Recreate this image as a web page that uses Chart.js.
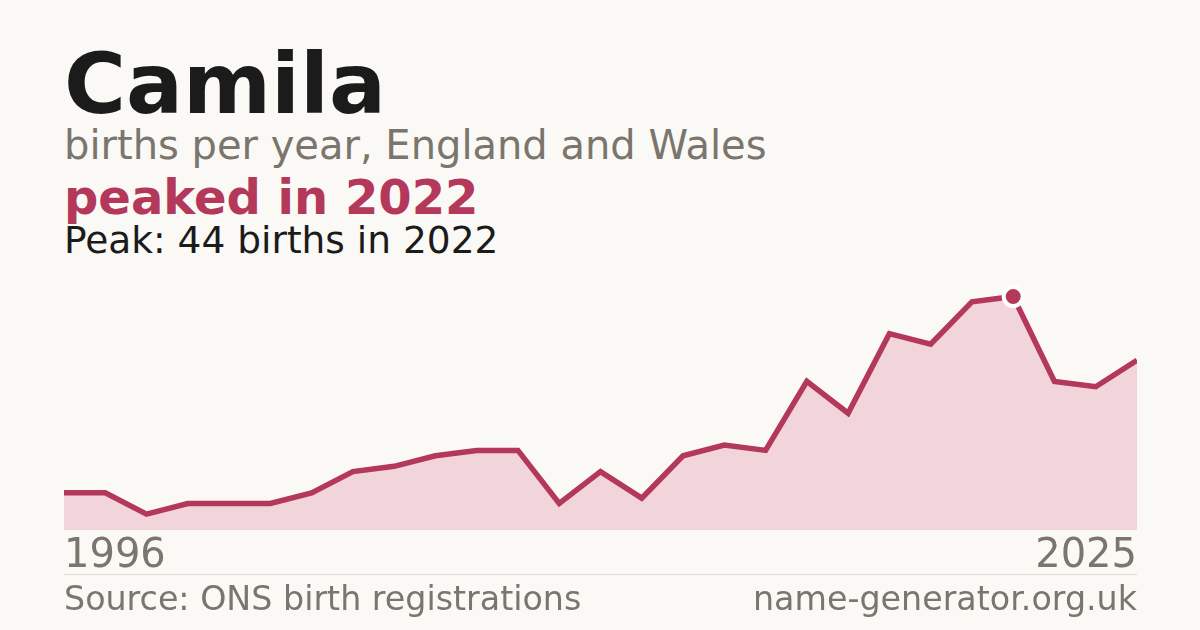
<!DOCTYPE html>
<html>
<head>
<meta charset="utf-8">
<script src="https://cdn.jsdelivr.net/npm/chart.js@4/dist/chart.umd.min.js"></script>
<style>
  html, body {
    margin: 0;
    padding: 0;
    width: 1200px;
    height: 630px;
    background: #faf9f5;
    overflow: hidden;
    font-family: "DejaVu Sans", sans-serif;
  }
  .txt {
    position: absolute;
    left: 64px;
    line-height: 1;
    white-space: nowrap;
  }
  #title { top: 42px; font-size: 84.5px; font-weight: bold; color: #1b1b1b; }
  #subtitle { top: 125px; font-size: 40px; color: #7a756d; }
  #headline { top: 173px; font-size: 48px; font-weight: bold; color: #b3385a; }
  #peakline { top: 222px; font-size: 37.5px; color: #1b1b1b; }
  #rule {
    position: absolute;
    left: 64px;
    top: 574px;
    width: 1073px;
    height: 1px;
    background: #dedbd3;
  }
  #source { top: 582px; font-size: 33.3px; color: #7a756d; }
  #site { top: 582px; left: auto; right: 63px; font-size: 33.3px; color: #7a756d; }
  #chartBox {
    position: absolute;
    left: 64px;
    top: 270px;
  }
</style>
</head>
<body>
<div class="txt" id="title">Camila</div>
<div class="txt" id="subtitle">births per year, England and Wales</div>
<div class="txt" id="headline"></div>
<div class="txt" id="peakline"></div>
<div id="chartBox"><canvas id="chart" width="1073" height="314"></canvas></div>
<div id="rule"></div>
<div class="txt" id="source">Source: ONS birth registrations</div>
<div class="txt" id="site">name-generator.org.uk</div>

<script>
// years shown in the series (a few years have no published count)
const years = [1996, 1997, 1998, 2000, 2001, 2002, 2004, 2005, 2006, 2007, 2008, 2009,
  2011, 2012, 2013, 2014, 2015, 2016, 2017, 2018, 2019, 2020, 2021, 2022, 2023, 2024, 2025];
// births per year
const births = [7, 7, 3, 5, 5, 5, 7, 11, 12, 14, 15, 15,
  5, 11, 6, 14, 16, 15, 28, 22, 37, 35, 43, 44, 28, 27, 32];
const yMax = 49;

const crimson = "#b3385a";
const peakValue = Math.max(...births);
const peakIndex = births.indexOf(peakValue);
const peakYear = years[peakIndex];

document.getElementById("headline").textContent = "peaked in " + peakYear;
document.getElementById("peakline").textContent =
  "Peak: " + peakValue + " births in " + peakYear;

const ctx = document.getElementById("chart").getContext("2d");
new Chart(ctx, {
  type: "line",
  data: {
    labels: years.map(String),
    datasets: [
      {
        data: births,
        borderColor: crimson,
        borderWidth: 5.5,
        borderJoinStyle: "miter",
        borderCapStyle: "butt",
        backgroundColor: "#f1d5da",
        fill: "origin",
        tension: 0,
        clip: false,
        pointRadius: (c) => (c.dataIndex === peakIndex ? 9.5 : 0),
        pointHoverRadius: (c) => (c.dataIndex === peakIndex ? 9.5 : 0),
        pointBackgroundColor: crimson,
        pointBorderColor: "#ffffff",
        pointBorderWidth: 4,
      },
    ],
  },
  options: {
    responsive: false,
    animation: false,
    events: [],
    layout: { padding: 0, autoPadding: false },
    plugins: {
      legend: { display: false },
      tooltip: { enabled: false },
    },
    scales: {
      x: {
        grid: { display: false, drawTicks: false },
        border: { display: false },
        ticks: {
          autoSkip: false,
          maxRotation: 0,
          align: "inner",
          padding: 0,
          color: "#7a756d",
          font: { family: "DejaVu Sans", size: 40, lineHeight: 1.35 },
          callback: function (value, index) {
            if (index === 0 || index === years.length - 1) {
              return this.getLabelForValue(value);
            }
            return "";
          },
        },
      },
      y: {
        display: false,
        min: 0,
        max: yMax,
      },
    },
  },
});
</script>
</body>
</html>
